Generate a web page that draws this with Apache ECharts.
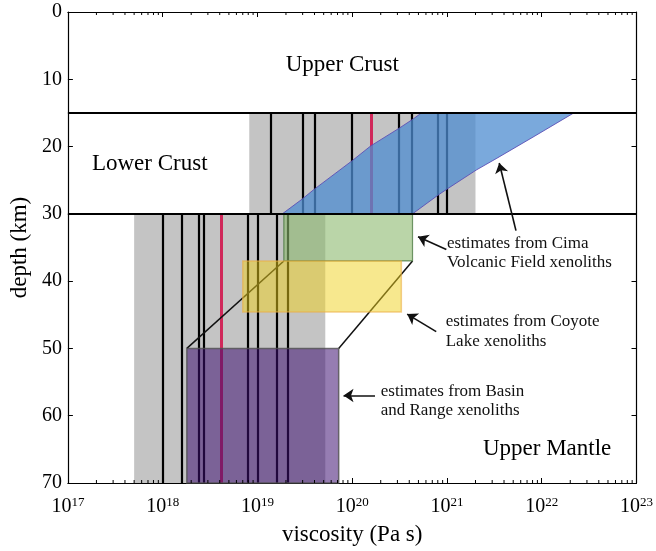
<!DOCTYPE html>
<html>
<head>
<meta charset="utf-8">
<script src="https://cdn.jsdelivr.net/npm/echarts@6/dist/echarts.min.js"></script>
<style>
  html, body { margin: 0; padding: 0; background: #fff; }
  #chart { width: 656px; height: 551px; }
</style>
</head>
<body>
<div id="chart"></div>
<script>
// ---- axis ticks ----
const xTickExponents = [17, 18, 19, 20, 21, 22, 23];
const yTickValues = [0, 10, 20, 30, 40, 50, 60, 70];

// ---- layer boundaries (km) ----
const layerBoundaries = [15, 30];

// ---- shaded viscosity ranges: [viscMin, viscMax, depthTop, depthBottom] ----
const crustRange = [8.2e18, 2.0e21, 15, 30];
const mantleRange = [5.0e17, 5.2e19, 30, 70];

// ---- individual viscosity estimates (Pa s) ----
const crustEstimates = [1.38e19, 3.0e19, 4.0e19, 1.0e20, 3.1e20, 4.3e20, 8.0e20, 1.0e21];
const crustPreferred = [1.57e20];
const mantleEstimates = [1.0e18, 1.6e18, 2.4e18, 2.7e18, 7.9e18, 1.0e19, 1.6e19, 2.07e19];
const mantlePreferred = [4.2e18];

// ---- xenolith-based estimates: [viscMin, viscMax, depthTop, depthBottom] ----
const cimaBox = [1.9e19, 4.33e20, 30, 37];
const coyoteBox = [7.0e18, 3.3e20, 37, 44.6];
const basinBox = [1.8e18, 7.2e19, 50, 70];

// ---- lower-crust viscosity band extrapolated from the Cima estimates ----
const bandUpperVisc = [1.83e19, 2.97e19, 3.93e19, 1.0e20, 1.57e20, 3.11e20, 4.4e20, 5.38e20];
const bandUpperDepth = [30, 27.8, 26.4, 22.1, 19.9, 17.3, 15.9, 15];
const bandLowerVisc = [2.18e22, 8.3e21, 3.3e21, 2.03e21, 9.8e20, 7.9e20, 4.33e20];
const bandLowerDepth = [15, 18.5, 21.8, 23.5, 26.4, 27.3, 30];

// ---- annotations ----
const regionLabels = [
  { text: 'Upper Crust', at: [7.85e19, 7.8] },
  { text: 'Lower Crust', at: [7.3e17, 22.6] },
  { text: 'Upper Mantle', at: [1.14e22, 65.0] }
];
const noteLabels = [
  { text: 'estimates from Cima\nVolcanic Field xenoliths', at: [1.0e21, 35.8] },
  { text: 'estimates from Coyote\nLake xenoliths', at: [9.7e20, 47.5] },
  { text: 'estimates from Basin\nand Range xenoliths', at: [2.0e20, 57.8] }
];
const arrows = [
  [[9.85e20, 35.3], [4.95e20, 33.4]],
  [[7.7e20, 47.5], [3.8e20, 44.9]],
  [[1.74e20, 57.0], [8.1e19, 57.0]],
  [[5.35e21, 32.5], [3.56e21, 22.45]]
];

const FONT = '"Liberation Serif", "Times New Roman", Times, serif';
const X_MIN = Math.pow(10, xTickExponents[0]);
const X_MAX = Math.pow(10, xTickExponents[xTickExponents.length - 1]);
const Y_MIN = yTickValues[0];
const Y_MAX = yTickValues[yTickValues.length - 1];

// minor ticks of the log axis: 2..9 within each decade
const minorTicks = [];
for (let i = 0; i < xTickExponents.length - 1; i++) {
  for (let m = 2; m <= 9; m++) minorTicks.push(m * Math.pow(10, xTickExponents[i]));
}

function rectSeries(name, boxes, fill, stroke, lineWidth, z) {
  return {
    name: name,
    type: 'custom',
    z: z,
    silent: true,
    data: boxes,
    renderItem: function (params, api) {
      const p1 = api.coord([api.value(0), api.value(2)]);
      const p2 = api.coord([api.value(1), api.value(3)]);
      return {
        type: 'rect',
        shape: { x: p1[0], y: p1[1], width: p2[0] - p1[0], height: p2[1] - p1[1] },
        style: { fill: fill, stroke: stroke, lineWidth: lineWidth }
      };
    }
  };
}

function verticalLines(name, values, top, bottom, color, width, z) {
  return {
    name: name,
    type: 'lines',
    coordinateSystem: 'cartesian2d',
    z: z,
    silent: true,
    symbol: 'none',
    lineStyle: { color: color, width: width, opacity: 1 },
    data: values.map(function (v) { return { coords: [[v, top], [v, bottom]] }; })
  };
}

const bandVertices = bandUpperVisc.map(function (v, i) { return [v, bandUpperDepth[i]]; })
  .concat(bandLowerVisc.map(function (v, i) { return [v, bandLowerDepth[i]]; }));

const chart = echarts.init(document.getElementById('chart'), null, { renderer: 'canvas' });

const xAxisBase = {
  type: 'log',
  logBase: 10,
  min: X_MIN,
  max: X_MAX,
  splitNumber: 6,
  splitLine: { show: false },
  axisLine: { show: true, onZero: false, lineStyle: { color: '#000', width: 1.2 } },
  axisTick: { show: true, inside: true, length: 5, lineStyle: { color: '#000', width: 1 } }
};
const yAxisBase = {
  type: 'value',
  inverse: true,
  min: Y_MIN,
  max: Y_MAX,
  interval: 10,
  splitLine: { show: false },
  axisLine: { show: true, onZero: false, lineStyle: { color: '#000', width: 1.2 } },
  axisTick: { show: true, inside: true, length: 5, lineStyle: { color: '#000', width: 1 } }
};

const option = {
  backgroundColor: '#fff',
  animation: false,
  grid: { left: 66, right: 18, top: 12, bottom: 65 },
  xAxis: [
    Object.assign({}, xAxisBase, {
      position: 'bottom',
      name: 'viscosity (Pa s)',
      nameLocation: 'middle',
      nameGap: 40,
      nameTextStyle: { fontFamily: FONT, fontSize: 23, color: '#000' },
      axisLabel: {
        margin: 13,
        formatter: function (value) {
          const e = Math.round(Math.log10(value));
          return xTickExponents.indexOf(e) >= 0 ? '{b|10}{s|' + e + '}' : '';
        },
        rich: {
          b: { fontFamily: FONT, fontSize: 20, color: '#000', lineHeight: 22 },
          s: { fontFamily: FONT, fontSize: 13, color: '#000', verticalAlign: 'top', lineHeight: 13 }
        }
      }
    }),
    Object.assign({}, xAxisBase, { position: 'top', axisLabel: { show: false } })
  ],
  yAxis: [
    Object.assign({}, yAxisBase, {
      position: 'left',
      name: 'depth (km)',
      nameLocation: 'middle',
      nameRotate: 90,
      nameGap: 31,
      nameTextStyle: { fontFamily: FONT, fontSize: 23, color: '#000' },
      axisLabel: { margin: 6, fontFamily: FONT, fontSize: 20, color: '#000' }
    }),
    Object.assign({}, yAxisBase, { position: 'right', axisLabel: { show: false } })
  ],
  series: [
    rectSeries('crust range', [crustRange], '#c4c4c4', null, 0, 1),
    rectSeries('mantle range', [mantleRange], '#c4c4c4', null, 0, 1),
    verticalLines('crust estimates', crustEstimates, crustRange[2], crustRange[3], '#000', 2.2, 2),
    verticalLines('crust preferred', crustPreferred, crustRange[2], crustRange[3], '#d0285a', 3, 2),
    verticalLines('mantle estimates', mantleEstimates, mantleRange[2], mantleRange[3], '#000', 2.2, 2),
    verticalLines('mantle preferred', mantlePreferred, mantleRange[2], mantleRange[3], '#d0285a', 3, 2),
    {
      name: 'lower crust band',
      type: 'custom',
      z: 3,
      silent: true,
      data: bandVertices,
      renderItem: function (params, api) {
        if (params.dataIndex !== 0) return null;
        const pts = bandVertices.map(function (p) { return api.coord(p); });
        return {
          type: 'polygon',
          shape: { points: pts, smooth: 0 },
          style: { fill: 'rgba(78,140,208,0.75)', stroke: '#5b4fb5', lineWidth: 0.9 }
        };
      }
    },
    {
      name: 'connectors',
      type: 'lines',
      coordinateSystem: 'cartesian2d',
      z: 3,
      silent: true,
      symbol: 'none',
      lineStyle: { color: '#111', width: 1.5, opacity: 1 },
      data: [
        { coords: [[basinBox[0], basinBox[2]], [cimaBox[0], cimaBox[3]]] },
        { coords: [[basinBox[1], basinBox[2]], [cimaBox[1], cimaBox[3]]] }
      ]
    },
    rectSeries('Cima', [cimaBox], 'rgba(140,185,110,0.6)', 'rgba(60,110,50,0.7)', 1.2, 4),
    rectSeries('Coyote', [coyoteBox], 'rgba(240,210,30,0.5)', 'rgba(235,175,70,0.6)', 1.5, 4),
    rectSeries('Basin and Range', [basinBox], 'rgba(61,15,113,0.54)', 'rgba(80,80,80,0.8)', 1.5, 4),
    {
      name: 'layer boundaries',
      type: 'lines',
      coordinateSystem: 'cartesian2d',
      z: 5,
      silent: true,
      symbol: 'none',
      lineStyle: { color: '#000', width: 2, opacity: 1 },
      data: layerBoundaries.map(function (d) { return { coords: [[X_MIN, d], [X_MAX, d]] }; })
    },
    {
      name: 'arrows',
      type: 'lines',
      coordinateSystem: 'cartesian2d',
      z: 6,
      silent: true,
      symbol: ['none', 'arrow'],
      symbolSize: [0, 10],
      lineStyle: { color: '#111', width: 1.6, opacity: 1 },
      data: arrows.map(function (a) { return { coords: a }; })
    },
    {
      name: 'region labels',
      type: 'scatter',
      z: 7,
      silent: true,
      symbolSize: 0,
      itemStyle: { color: '#000' },
      data: regionLabels.map(function (r) { return { value: r.at, name: r.text }; }),
      label: {
        show: true,
        position: 'inside',
        formatter: '{b}',
        fontFamily: FONT,
        fontSize: 23,
        color: '#000',
        textBorderWidth: 0,
        opacity: 1
      }
    },
    {
      name: 'notes',
      type: 'scatter',
      z: 7,
      silent: true,
      symbolSize: 0,
      itemStyle: { color: '#000' },
      data: noteLabels.map(function (r) { return { value: r.at, name: r.text }; }),
      label: {
        show: true,
        position: 'right',
        distance: 0,
        align: 'left',
        formatter: '{b}',
        fontFamily: FONT,
        fontSize: 17,
        lineHeight: 19.5,
        color: '#111',
        textBorderWidth: 0,
        opacity: 1
      }
    },
    {
      name: 'minor ticks',
      type: 'custom',
      z: 8,
      silent: true,
      data: minorTicks,
      renderItem: function (params, api) {
        const v = api.value(0);
        const b = api.coord([v, Y_MAX]);
        const t = api.coord([v, Y_MIN]);
        return {
          type: 'group',
          children: [
            { type: 'line', shape: { x1: b[0], y1: b[1], x2: b[0], y2: b[1] - 3 }, style: { stroke: '#000', lineWidth: 1 } },
            { type: 'line', shape: { x1: t[0], y1: t[1], x2: t[0], y2: t[1] + 3 }, style: { stroke: '#000', lineWidth: 1 } }
          ]
        };
      }
    }
  ]
};

chart.setOption(option);
</script>
</body>
</html>
